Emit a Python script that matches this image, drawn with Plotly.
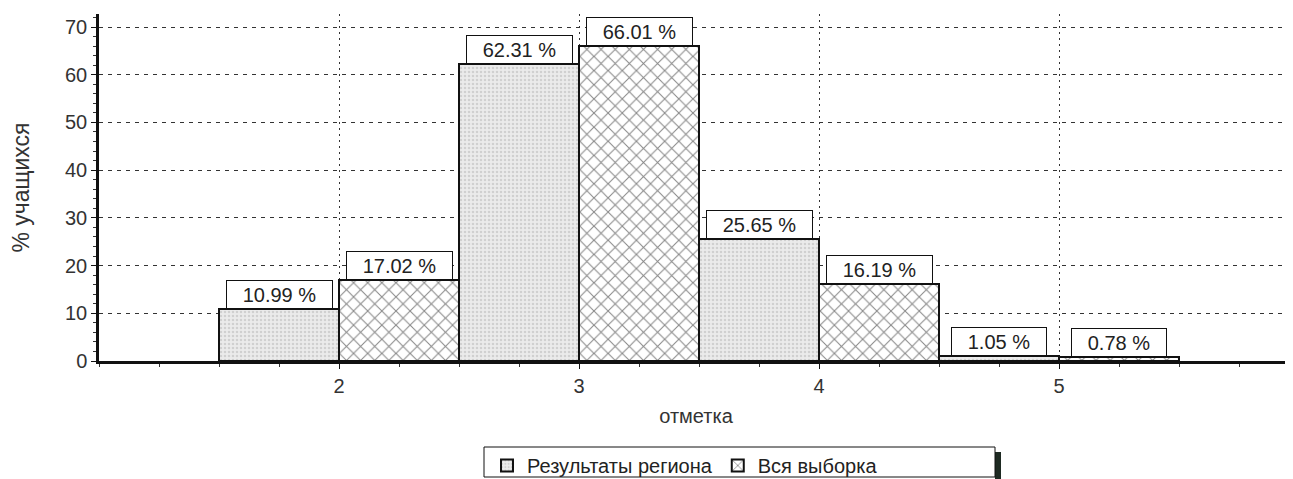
import plotly.graph_objects as go

# ---- data ----
categories = [2, 3, 4, 5]
region_values = [10.99, 62.31, 25.65, 1.05]
all_values = [17.02, 66.01, 16.19, 0.78]
series_names = ["Результаты региона", "Вся выборка"]
y_ticks = [0, 10, 20, 30, 40, 50, 60, 70]
x_title = "отметка"
y_title = "% учащихся"

# page has an 8px body margin; compensate so the plot lands where the reference has it
OX, OY = 8, 8
W, H = 1285, 471
L, R, T, B = 91, 0, 6, 118
PW, PH = W - L - R, H - T - B


def px_x(px):
    return (px - OX - L) / PW


def px_y(py):
    return (OY + H - B - py) / PH


FONT = "Liberation Sans, Arial, sans-serif"

fig = go.Figure()
fig.add_trace(go.Bar(
    x=categories, y=region_values, name=series_names[0],
    marker=dict(color="#e9e9e9", line=dict(color="#111", width=2),
                pattern=dict(shape=".", fgcolor="#b5b5b5", bgcolor="#ebebeb",
                             size=4, solidity=0.35)),
))
fig.add_trace(go.Bar(
    x=categories, y=all_values, name=series_names[1],
    marker=dict(color="white", line=dict(color="#111", width=2),
                pattern=dict(shape="x", fgcolor="#111", bgcolor="white",
                             size=10, solidity=0.2)),
))

# value labels (boxed)
annotations = []
for vals, off in ((region_values, -0.25), (all_values, 0.25)):
    for c, v in zip(categories, vals):
        label = f"{v:.2f} %"
        annotations.append(dict(
            x=c + off, y=v, xref="x", yref="y", text=label, showarrow=False,
            xanchor="center", yanchor="bottom", yshift=0,
            font=dict(family=FONT, size=20, color="#222"),
            bgcolor="white", bordercolor="#111", borderwidth=1, borderpad=2,
            width=11 * len(label) + 24, height=23,
        ))

fig.update_layout(
    width=W, height=H,
    margin=dict(l=L, r=R, t=T, b=B, pad=0, autoexpand=False),
    paper_bgcolor="white", plot_bgcolor="white",
    barmode="group", bargap=0, bargroupgap=0,
    font=dict(family=FONT, size=20, color="#333"),
    annotations=annotations,
    showlegend=True,
    legend=dict(orientation="h", x=px_x(487), y=px_y(446), xanchor="left", yanchor="top",
                bgcolor="rgba(0,0,0,0)", borderwidth=0,
                font=dict(family=FONT, size=20, color="#222"),
                itemwidth=30, tracegroupgap=0, itemsizing="constant"),
    shapes=[
        dict(type="rect", xref="paper", yref="paper",
             x0=px_x(995), x1=px_x(1001), y0=px_y(479), y1=px_y(452),
             fillcolor="#1e2a22", line=dict(width=0)),
        dict(type="rect", xref="paper", yref="paper",
             x0=px_x(484), x1=px_x(995), y0=px_y(477), y1=px_y(447),
             fillcolor="rgba(0,0,0,0)", line=dict(color="#111", width=1)),
    ],
)

fig.update_xaxes(
    range=[1, 1 + PW / 240.0],
    tickvals=categories, ticktext=[str(c) for c in categories],
    showline=True, linecolor="#111", linewidth=2.5,
    ticks="outside", ticklen=5, tickcolor="#111",
    tickfont=dict(family=FONT, size=20, color="#333"),
    showgrid=True, gridcolor="#333", gridwidth=1, griddash="2px,4px",
    minor=dict(dtick=0.25, tick0=1, ticks="outside", ticklen=3, tickcolor="#333", showgrid=False),
    zeroline=False,
    title=dict(text=x_title, font=dict(family=FONT, size=20, color="#333"), standoff=14),
)
fig.update_yaxes(
    range=[0, 70 * PH / 334.0],
    tickvals=y_ticks,
    showline=True, linecolor="#111", linewidth=2.5,
    ticks="outside", ticklen=5, tickcolor="#111",
    tickfont=dict(family=FONT, size=20, color="#333"),
    showgrid=True, gridcolor="#333", gridwidth=1, griddash="4px,5px",
    minor=dict(dtick=2, ticks="outside", ticklen=3, tickcolor="#333", showgrid=False),
    zeroline=False,
    title=dict(text=y_title, font=dict(family=FONT, size=23, color="#333"), standoff=29),
)

fig.write_html("out.html")
